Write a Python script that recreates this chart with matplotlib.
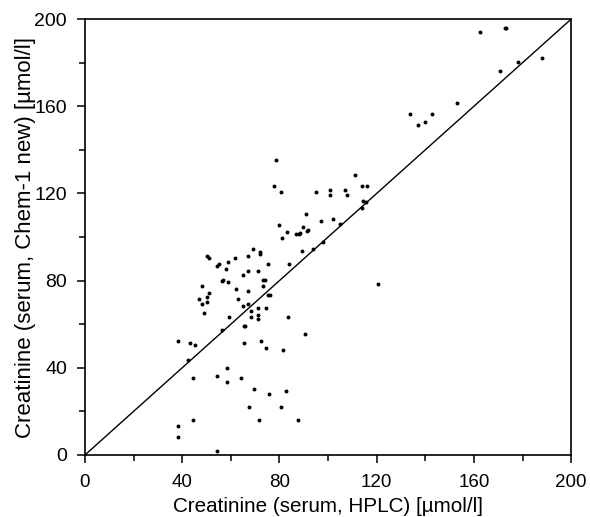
import numpy as np
import matplotlib
matplotlib.use("Agg")
from matplotlib import pyplot as plt
from matplotlib.ticker import MultipleLocator

# creatinine, HPLC (x) vs. Chem-1 new (y), umol/l
hplc = [162.7, 173.3, 172.8, 178.3, 188.2, 170.9, 153.0, 133.7, 142.9, 136.9,
        140.0, 120.4, 111.0, 114.1, 116.0, 94.9, 101.0, 101.0, 107.0, 108.0,
        114.5, 115.6, 114.1, 90.9, 97.1, 102.1, 104.9, 89.8, 91.2, 91.9,
        88.5, 89.2, 94.0, 98.1, 78.7, 77.9, 80.8, 80.0, 83.3, 80.9,
        87.0, 88.0, 84.1, 50.1, 50.9, 54.2, 55.0, 59.0, 61.9, 67.0,
        69.0, 71.9, 72.1, 75.3, 58.0, 56.2, 56.9, 59.0, 65.0, 67.1,
        71.1, 73.1, 74.1, 48.0, 51.0, 50.1, 47.0, 62.0, 67.0, 73.1,
        75.2, 76.1, 63.1, 48.1, 50.1, 49.1, 65.1, 67.2, 68.3, 71.2,
        74.4, 59.3, 68.3, 71.2, 71.2, 65.3, 66.0, 83.4, 56.2, 90.5,
        38.1, 43.2, 45.3, 65.3, 72.3, 74.4, 81.3, 42.3, 58.3, 44.4,
        54.3, 58.4, 64.3, 69.4, 75.6, 82.7, 67.5, 80.5, 44.4, 71.6,
        87.7, 38.3, 38.4, 54.4]
chem1 = [194.0, 196.0, 195.8, 180.4, 182.2, 176.4, 161.7, 156.5, 156.5, 151.6,
         152.6, 78.5, 128.7, 123.4, 123.4, 120.6, 121.5, 119.4, 121.5, 119.4,
         116.5, 116.0, 113.2, 110.6, 107.4, 108.3, 106.2, 104.4, 102.7, 103.4,
         101.9, 93.5, 94.7, 97.5, 135.5, 123.4, 120.5, 105.3, 102.4, 99.4,
         101.5, 101.5, 87.5, 91.5, 90.6, 86.6, 87.5, 88.4, 90.4, 91.4,
         94.6, 93.2, 92.4, 87.5, 85.5, 79.7, 80.1, 79.2, 82.4, 84.3,
         84.3, 80.3, 80.3, 77.6, 74.3, 72.3, 71.6, 76.3, 75.2, 77.6,
         73.2, 73.2, 71.6, 69.3, 70.2, 65.3, 68.4, 69.3, 66.2, 67.3,
         67.3, 63.3, 63.3, 64.4, 62.4, 59.3, 59.3, 63.3, 57.5, 55.3,
         52.4, 51.3, 50.3, 51.3, 52.3, 49.3, 48.3, 43.4, 40.1, 35.3,
         36.3, 33.3, 35.3, 30.3, 28.2, 29.3, 22.1, 22.1, 16.1, 16.1,
         16.1, 13.2, 8.3, 2.0]

ticks = [0, 40, 80, 120, 160, 200]

plt.rcParams['font.family'] = ['Liberation Sans', 'DejaVu Sans']

fig = plt.figure(figsize=(5.9, 5.17), dpi=100)
ax = fig.add_axes([0.144, 0.12, 0.824, 0.843])

ax.scatter(hplc, chem1, s=8, c='black', marker='o', linewidths=0)
ax.plot([0, 200], [0, 200], color='black', lw=1.0)  # line of identity

ax.set_xlim(0, 200)
ax.set_ylim(0, 200)
ax.set_xticks(ticks)
ax.set_yticks(ticks)
ax.xaxis.set_minor_locator(MultipleLocator(20))
ax.yaxis.set_minor_locator(MultipleLocator(20))
ax.tick_params(which='both', direction='out', width=1.1, top=False, right=False)
ax.tick_params(which='major', length=6)
ax.tick_params(which='minor', length=4.5)
ax.tick_params(axis='x', which='major', labelsize=13.5, pad=8)
ax.tick_params(axis='y', which='major', labelsize=14, pad=7)
for s in ax.spines.values():
    s.set_linewidth(1.2)

ax.set_xlabel("Creatinine (serum, HPLC) [µmol/l]", fontsize=14.9, labelpad=4)
ax.set_ylabel("Creatinine (serum, Chem-1 new) [µmol/l]", fontsize=16, labelpad=-1)

fig.savefig("out.png", dpi=100)
